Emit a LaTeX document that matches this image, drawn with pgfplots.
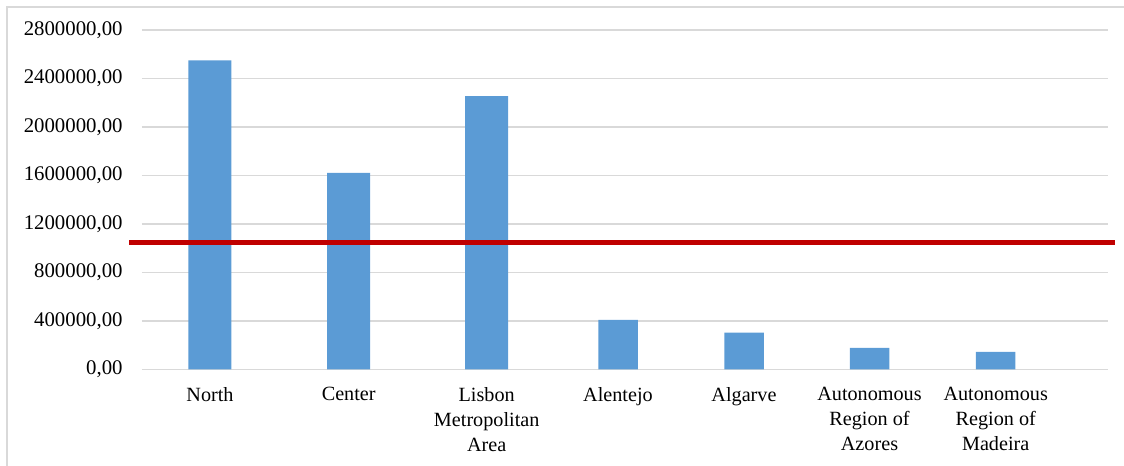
\documentclass[border=0pt]{standalone}
\usepackage{fontspec}
\setmainfont{Liberation Serif}
\newfontfamily\tnr{Liberation Serif}
\usepackage{pgfplots}
\pgfplotsset{compat=1.18}
\definecolor{barblue}{HTML}{5B9BD5}
\definecolor{avgred}{HTML}{C00000}
\definecolor{gridgray}{HTML}{D9D9D9}

\begin{document}
\begin{tikzpicture}[font=\tnr]
\begin{axis}[
	name=ax,
	scale only axis,
	width=483bp, height=169.65bp,
	xmin=142, xmax=1108,
	ymin=0, ymax=2800000,
	axis line style={draw=none},
	ymajorgrids,
	grid style={gridgray, line width=0.75bp},
	major tick length=0pt,
	scaled y ticks=false,
	ytick={0,400000,800000,1200000,1600000,2000000,2400000,2800000},
	yticklabels={{0,00},{400000,00},{800000,00},{1200000,00},{1600000,00},{2000000,00},{2400000,00},{2800000,00}},
	xtick={210,348.7,486.7,618,744,869.5,995.7},
	xticklabels={North,Center,Lisbon\\Metropolitan\\Area,Alentejo,Algarve,Autonomous\\Region of\\Azores,Autonomous\\Region of\\Madeira},
	xticklabel style={align=center, inner sep=0pt, yshift=-8.7bp, font=\tnr\fontsize{10.1bp}{12.5bp}\selectfont},
	yticklabel style={inner sep=0pt, xshift=-9.5bp, font=\tnr\fontsize{10.4bp}{12.5bp}\selectfont},
	clip=false,
]
% regions on the mainland
\addplot[ybar, bar shift=0pt, bar width=43, fill=barblue, draw=none] coordinates {
	(210,2550000)
	(348.7,1620000)
	(486.7,2255000) };
\addplot[ybar, bar shift=0pt, bar width=39.5, fill=barblue, draw=none] coordinates {
	(618,407000)
	(744,302000)
	(869.5,176000)
	(995.7,143000) };
% national average
\addplot[avgred, line width=2.3bp] coordinates {(129.3,1045000) (1115,1045000)};
\end{axis}
\draw[gridgray, line width=1bp] ([xshift=-67.5bp,yshift=-48.35bp]ax.south west) -- ([xshift=-67.5bp,yshift=181.3bp]ax.south west) -- ([xshift=491bp,yshift=181.3bp]ax.south west);
\pgfresetboundingbox
\path[use as bounding box] ([xshift=-71bp,yshift=-48.35bp]ax.south west) rectangle ([xshift=491bp,yshift=184.65bp]ax.south west);
\end{tikzpicture}
\end{document}
